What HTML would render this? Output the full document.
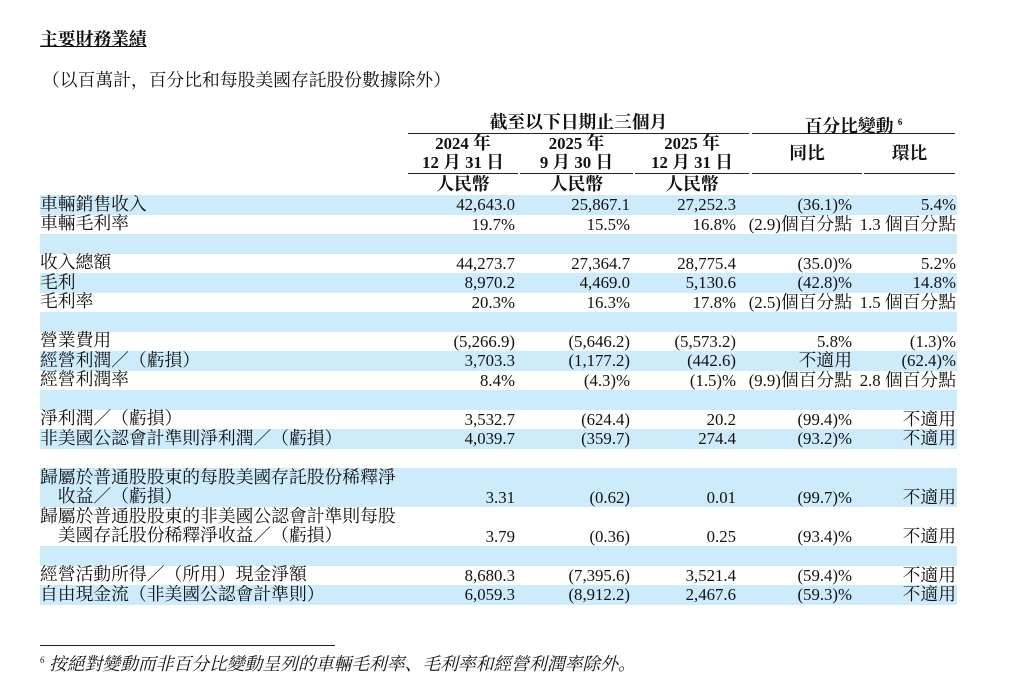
<!DOCTYPE html>
<html><head><meta charset="utf-8">
<style>
body{margin:0;background:#fff;width:1024px;height:690px;position:relative;overflow:hidden;
font-family:"Liberation Serif","Noto Serif CJK SC",serif;color:#111;font-size:16.8px;}
.a{position:absolute;white-space:nowrap;line-height:20px;}
.b{font-weight:bold;}
.band{position:absolute;left:40px;width:917px;background:#cdebfb;}
.ln{position:absolute;height:1px;background:#222;}
.r{text-align:right;}
.c{text-align:center;}
.k{font-size:17.8px;}
</style></head><body>
<div class="a b k" style="left:40px;top:29px;text-decoration:underline;">主要財務業績</div>
<div class="a k" style="left:42px;top:70px;">（以百萬計，百分比和每股美國存託股份數據除外）</div>

<div class="a b c k" style="left:408px;width:341px;top:112px;">截至以下日期止三個月</div>
<div class="ln" style="left:408px;width:341px;top:133px;"></div>
<div class="a b c k" style="left:752px;width:203px;top:112px;">百分比變動 <sup style="font-size:9px">6</sup></div>
<div class="ln" style="left:752px;width:203px;top:133px;"></div>

<div class="a b c" style="left:408px;width:110px;top:134px;line-height:18px;">2024 <span class="k">年</span><br>12 <span class="k">月</span> 31 <span class="k">日</span></div>
<div class="a b c" style="left:520px;width:113px;top:134px;line-height:18px;">2025 <span class="k">年</span><br>9 <span class="k">月</span> 30 <span class="k">日</span></div>
<div class="a b c" style="left:635px;width:114px;top:134px;line-height:18px;">2025 <span class="k">年</span><br>12 <span class="k">月</span> 31 <span class="k">日</span></div>
<div class="a b c k" style="left:752px;width:110px;top:143px;">同比</div>
<div class="a b c k" style="left:864px;width:91px;top:143px;">環比</div>
<div class="ln" style="left:408px;width:110px;top:173px;"></div>
<div class="ln" style="left:520px;width:113px;top:173px;"></div>
<div class="ln" style="left:635px;width:114px;top:173px;"></div>
<div class="ln" style="left:752px;width:110px;top:173px;"></div>
<div class="ln" style="left:864px;width:91px;top:173px;"></div>
<div class="a b c k" style="left:408px;width:110px;top:174px;">人民幣</div>
<div class="a b c k" style="left:520px;width:113px;top:174px;">人民幣</div>
<div class="a b c k" style="left:635px;width:114px;top:174px;">人民幣</div>

<div id="tbl"></div>
<div class="ln" style="left:40px;width:295px;top:645px;"></div>
<div class="a k" style="left:40px;top:650px;font-style:italic;"><sup style="font-size:9px">6</sup> 按絕對變動而非百分比變動呈列的車輛毛利率、毛利率和經營利潤率除外。</div>

<script>
const labels=["車輛銷售收入","車輛毛利率","","收入總額","毛利","毛利率","","營業費用","經營利潤／（虧損）","經營利潤率","","淨利潤／（虧損）","非美國公認會計準則淨利潤／（虧損）","","歸屬於普通股股東的每股美國存託股份稀釋淨<br>　收益／（虧損）","歸屬於普通股股東的非美國公認會計準則每股<br>　美國存託股份稀釋淨收益／（虧損）","","經營活動所得／（所用）現金淨額","自由現金流（非美國公認會計準則）"];
const c2024=["42,643.0","19.7%","","44,273.7","8,970.2","20.3%","","(5,266.9)","3,703.3","8.4%","","3,532.7","4,039.7","","3.31","3.79","","8,680.3","6,059.3"];
const c2025q3=["25,867.1","15.5%","","27,364.7","4,469.0","16.3%","","(5,646.2)","(1,177.2)","(4.3)%","","(624.4)","(359.7)","","(0.62)","(0.36)","","(7,395.6)","(8,912.2)"];
const c2025q4=["27,252.3","16.8%","","28,775.4","5,130.6","17.8%","","(5,573.2)","(442.6)","(1.5)%","","20.2","274.4","","0.01","0.25","","3,521.4","2,467.6"];
const yoy=["(36.1)%","(2.9)個百分點","","(35.0)%","(42.8)%","(2.5)個百分點","","5.8%","不適用","(9.9)個百分點","","(99.4)%","(93.2)%","","(99.7)%","(93.4)%","","(59.4)%","(59.3)%"];
const qoq=["5.4%","1.3 個百分點","","5.2%","14.8%","1.5 個百分點","","(1.3)%","(62.4)%","2.8 個百分點","","不適用","不適用","","不適用","不適用","","不適用","不適用"];
const tbl=document.getElementById('tbl');
const rights=[515,630,736,852,956];
function cjk(s){return s.replace(/([\u3000-\u9fff\uff00-\uffef]+)/g,'<span class="k">$1</span>');}
let y=195;
labels.forEach((lab,i)=>{
  const two=lab.indexOf('<br>')>=0;
  const h=two?39:19.5;
  if(i%2===0){const b=document.createElement('div');b.className='band';
    
    
    b.style.top=y+'px';b.style.height=h+'px';tbl.appendChild(b);}
  if(lab){
    const l=document.createElement('div');l.className='a k';
    
    
    l.style.left='40px';l.style.top=(y-0.5)+'px';l.style.lineHeight='19.5px';l.innerHTML=lab;tbl.appendChild(l);
    const vy=two?y+19.5:y;
    [c2024,c2025q3,c2025q4,yoy,qoq].forEach((arr,k)=>{
      const v=document.createElement('div');v.className='a r';
      
      
      v.style.right=(1024-rights[k])+'px';v.style.top=vy+'px';v.style.lineHeight='19.5px';
      v.innerHTML=cjk(arr[i]);tbl.appendChild(v);
    });
  }
  y+=h;
});
</script>
</body></html>
